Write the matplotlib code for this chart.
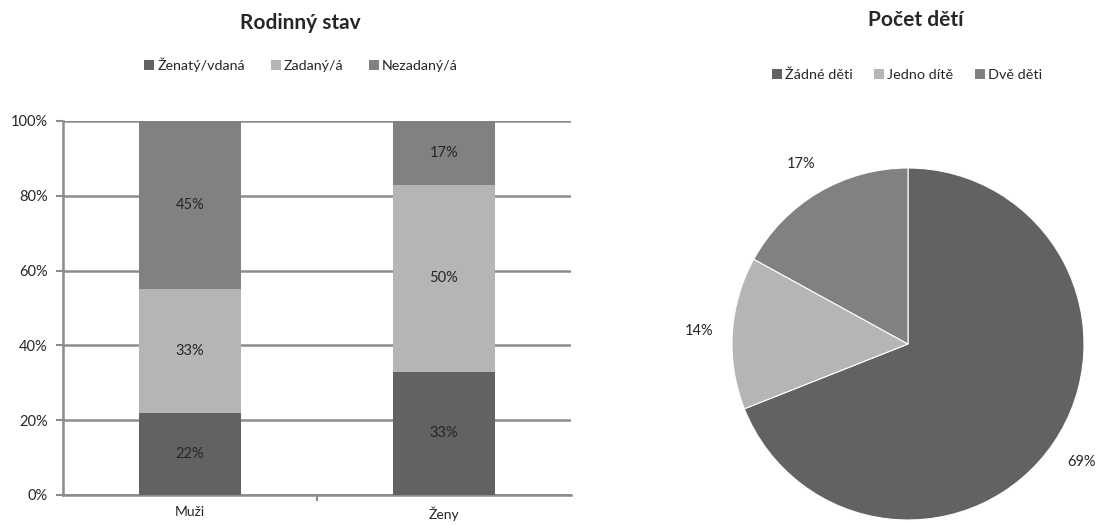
import matplotlib
matplotlib.use("Agg")
import matplotlib.pyplot as plt
from matplotlib.patches import Patch

plt.rcParams['font.family'] = ['Lato', 'DejaVu Sans']

# Data
bar_categories = ["Muži", "Ženy"]
bar_series = ["Ženatý/vdaná", "Zadaný/á", "Nezadaný/á"]
married = [22, 33]
taken = [33, 50]
single = [45, 17]
y_ticks = [0, 20, 40, 60, 80, 100]
y_tick_labels = ["0%", "20%", "40%", "60%", "80%", "100%"]

pie_labels = ["Žádné děti", "Jedno dítě", "Dvě děti"]
pie_values = [69, 14, 17]

c_dark = "#626262"
c_light = "#b4b5b4"
c_mid = "#808180"
text_c = "#262626"
grid_c = "#8c8c8c"

fig = plt.figure(figsize=(10.97, 5.25), dpi=100)

# Stacked bar chart
ax = fig.add_axes([63/1097, 1-495/525, (571-63)/1097, (495-121)/525])
x = list(range(len(bar_categories)))
w = 0.4
series_vals = [married, taken, single]
colors = [c_dark, c_light, c_mid]
bottoms = [0]*len(x)
for vals, col, name in zip(series_vals, colors, bar_series):
    ax.bar(x, vals, w, bottom=bottoms, color=col, label=name, zorder=3, linewidth=0)
    for xi, v, b in zip(x, vals, bottoms):
        ax.text(xi, b + v/2, f"{v}%", ha="center", va="center", fontsize=10.5, color=text_c, zorder=4)
    bottoms = [b + v for b, v in zip(bottoms, vals)]

ax.set_xlim(-0.5, 1.5)
ax.set_ylim(0, 100)
ax.set_yticks(y_ticks)
ax.set_yticklabels(y_tick_labels, fontsize=10.5, color=text_c)
ax.set_xticks(x)
ax.set_xticklabels(bar_categories, fontsize=10, color=text_c)
ax.set_xticks([0.5], minor=True)
ax.tick_params(axis="x", which="major", length=0, pad=8)
ax.tick_params(axis="x", which="minor", length=4, color=grid_c, width=1.5)
ax.tick_params(axis="y", length=5, color=grid_c, width=1.5, pad=6)
ax.yaxis.grid(True, color=grid_c, linewidth=1.8, zorder=0)
for s in ["top", "right"]:
    ax.spines[s].set_visible(False)
for s in ["left", "bottom"]:
    ax.spines[s].set_color(grid_c)
    ax.spines[s].set_linewidth(1.8)

fig.text(300/1097, 1-23/525, "Rodinný stav", ha="center", va="center", fontsize=15, fontweight="bold", color=text_c)
handles = [Patch(facecolor=c, label=n) for c, n in zip(colors, bar_series)]
fig.legend(handles=handles, loc="center", bbox_to_anchor=(301/1097, 1-65/525), ncol=3, frameon=False,
           fontsize=10.3, handlelength=0.7, handleheight=0.7, handletextpad=0.2, columnspacing=1.8,
           labelcolor=text_c)

# Pie chart
r = 176
pax = fig.add_axes([(908-r)/1097, 1-(344+r)/525, 2*r/1097, 2*r/525])
wedges, texts, autotexts = pax.pie(pie_values, colors=[c_dark, c_light, c_mid], startangle=90, counterclock=False,
                                   autopct=lambda p: f"{p:.0f}%", pctdistance=1.19,
                                   wedgeprops=dict(linewidth=0.8, edgecolor="white"),
                                   textprops=dict(fontsize=10.5, color=text_c))
pax.set_xlim(-1, 1)
pax.set_ylim(-1, 1)
pax.set_aspect("equal")

fig.text(916/1097, 1-20/525, "Počet dětí", ha="center", va="center", fontsize=15, fontweight="bold", color=text_c)
handles2 = [Patch(facecolor=c, label=n) for c, n in zip([c_dark, c_light, c_mid], pie_labels)]
fig.legend(handles=handles2, loc="center", bbox_to_anchor=(907/1097, 1-75/525), ncol=3, frameon=False,
           fontsize=10.4, handlelength=0.7, handleheight=0.7, handletextpad=0.2, columnspacing=1.5,
           labelcolor=text_c)

fig.savefig("out.png", dpi=100)
